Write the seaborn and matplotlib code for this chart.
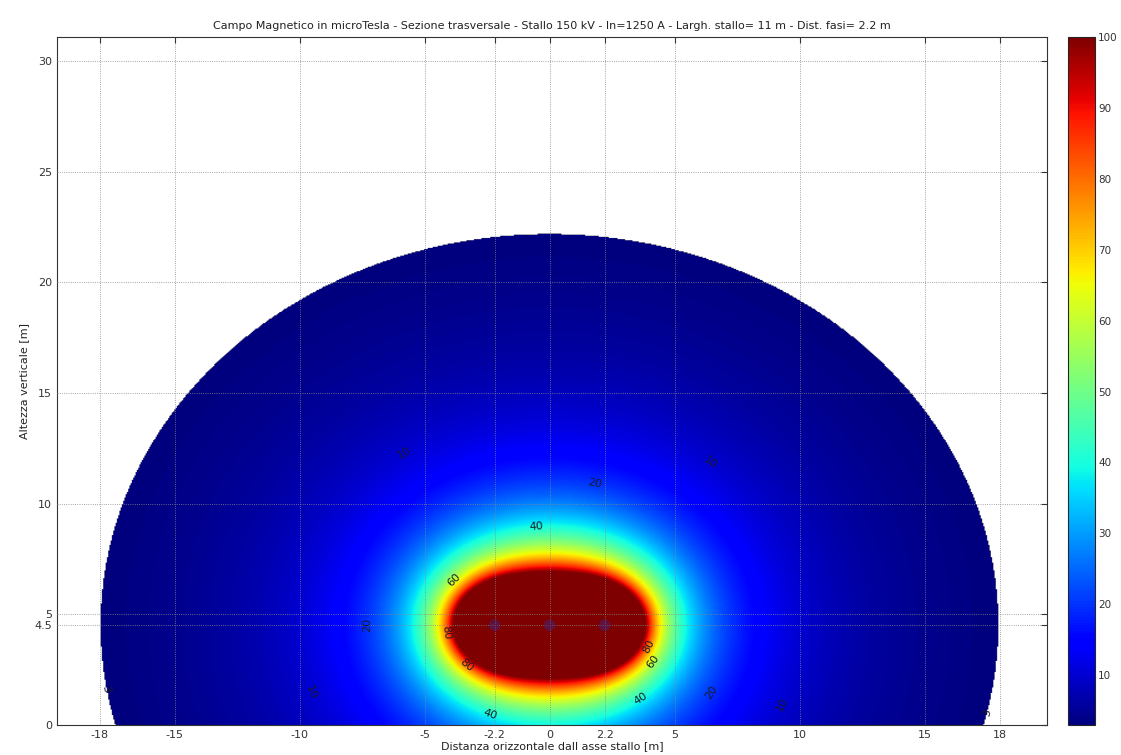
import numpy as np
import matplotlib
matplotlib.use("Agg")
import matplotlib.pyplot as plt
import seaborn as sns

# --- Line data (from the title / ticks) ---
PHASE_X = [-2.2, 0.0, 2.2]          # conductor positions [m]
PHASE_Y = [4.5, 4.5, 4.5]           # conductor height [m]
PHASE_DEG = [120.0, 0.0, -120.0]    # phase angles
CURRENT_A = 1250.0                  # In [A]
B_MIN_UT = 3.0                      # quality objective, area shown
B_MAX_UT = 100.0                    # colour saturation
CONTOUR_LEVELS = [3, 10, 20, 40, 60, 80]

# where the contour labels sit
LABEL_SPOTS = [(-5.8, 12.3), (6.5, 12.0), (1.8, 10.8), (-0.5, 8.7),
               (-3.7, 6.4), (-4.1, 4.2), (-3.1, 3.0), (4.0, 3.5), (4.3, 2.7),
               (3.7, 1.1), (-2.4, 0.4), (-7.1, 4.5), (-9.5, 1.5),
               (6.7, 1.3), (9.5, 0.8), (-17.8, 1.6), (17.7, 0.5)]

XTICKS = [-18, -15, -10, -5, -2.2, 0, 2.2, 5, 10, 15, 18]
XTICKLABELS = ["-18", "-15", "-10", "-5", "-2.2", "0", "2.2", "5", "10", "15", "18"]
YTICKS = [0, 4.5, 5, 10, 15, 20, 25, 30]
YTICKLABELS = ["0", "4.5", "5", "10", "15", "20", "25", "30"]
CBAR_TICKS = [10, 20, 30, 40, 50, 60, 70, 80, 90, 100]

XLIM = (-19.7, 19.9)
YLIM = (0, 31.1)

TITLE = ("Campo Magnetico in microTesla - Sezione trasversale - Stallo 150 kV - "
         "In=1250 A - Largh. stallo= 11 m - Dist. fasi= 2.2 m")

# --- Field on a grid (Biot-Savart, infinite straight conductors, rms) ---
xs = np.arange(XLIM[0], XLIM[1] + 0.05, 0.05)
ys = np.arange(YLIM[0], YLIM[1] + 0.05, 0.05)
X, Y = np.meshgrid(xs, ys)
bx = np.zeros_like(X, dtype=complex)
by = np.zeros_like(X, dtype=complex)
k = 2e-7 * 1e6  # mu0/(2 pi) in uT*m/A
for xc, yc, ph in zip(PHASE_X, PHASE_Y, PHASE_DEG):
    I = CURRENT_A * np.exp(1j * np.radians(ph))
    dx, dy = X - xc, Y - yc
    r2 = dx**2 + dy**2 + 1e-6
    bx += -k * I * dy / r2
    by += k * I * dx / r2
B = np.sqrt(np.abs(bx)**2 + np.abs(by)**2)
Bm = np.ma.masked_less(B, B_MIN_UT)
Bc = np.ma.masked_less(np.minimum(B, B_MAX_UT), B_MIN_UT)

sns.set_style("white")
plt.rcParams["font.family"] = ["DejaVu Sans"]

fig = plt.figure(figsize=(11.21, 7.55), dpi=100)
ax = fig.add_axes([0.051, 0.040, 0.883, 0.911])
cax = fig.add_axes([0.953, 0.040, 0.024, 0.911])

cmap = matplotlib.colormaps["jet"]
im = ax.imshow(Bc, extent=[xs[0], xs[-1], ys[0], ys[-1]], origin="lower",
               cmap=cmap, vmin=float(Bm.min()), vmax=B_MAX_UT,
               interpolation="bilinear", aspect="auto")

# contour lines are invisible in the original, only the labels show
cs = ax.contour(X, Y, np.minimum(B, 500), levels=CONTOUR_LEVELS, colors="k",
                linewidths=0)
ax.clabel(cs, fmt="%d", fontsize=8, colors="#1a1a2a", inline=True,
          manual=LABEL_SPOTS)

ax.scatter(PHASE_X, PHASE_Y, s=70, color="#3c2a8c", alpha=0.45,
           edgecolors="none", zorder=3)

ax.set_xlim(XLIM)
ax.set_ylim(YLIM)
ax.set_xticks(XTICKS)
ax.set_xticklabels(XTICKLABELS)
ax.set_yticks(YTICKS)
ax.set_yticklabels(YTICKLABELS)
ax.tick_params(direction="in", length=4, labelsize=8, colors="#333333",
               top=True, right=True)
ax.grid(True, color="#888888", linestyle=":", linewidth=0.6)
ax.set_axisbelow(False)
for s in ax.spines.values():
    s.set_color("#333333")
    s.set_linewidth(0.8)

ax.set_title(TITLE, fontsize=8, color="#222222", pad=6)
ax.set_xlabel("Distanza orizzontale dall asse stallo [m]", fontsize=8,
              color="#222222", labelpad=1)
ax.set_ylabel("Altezza verticale [m]", fontsize=8, color="#222222", labelpad=4)

cb = fig.colorbar(im, cax=cax)
cb.set_ticks(CBAR_TICKS)
cb.ax.tick_params(labelsize=7.5, colors="#333333", direction="in", length=3, pad=2)
cb.outline.set_linewidth(0.8)

fig.savefig("out.png", dpi=100)
